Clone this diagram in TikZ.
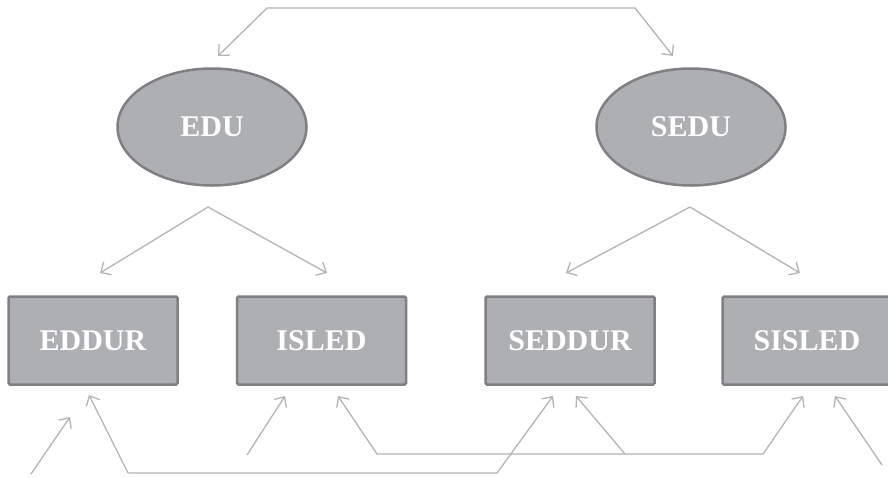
\documentclass[tikz,border=0pt]{standalone}
\usepackage{fontspec}
\setmainfont{Liberation Serif}
\usetikzlibrary{arrows.meta,shapes.geometric}
\definecolor{boxfill}{RGB}{174,175,179}
\definecolor{boxline}{RGB}{128,128,132}
\definecolor{connc}{RGB}{180,180,184}
\begin{document}
\begin{tikzpicture}[x=1pt,y=-1pt,
  lbl/.style={text=white,font=\fontsize{30}{36}\selectfont\bfseries},
  latent/.style={ellipse,draw=boxline,line width=2.5pt,fill=boxfill,minimum width=189pt,minimum height=117pt,lbl},
  observed/.style={rectangle,rounded corners=1.5pt,draw=boxline,line width=2.5pt,fill=boxfill,minimum width=169pt,minimum height=88pt,lbl},
  tipshape/.style={Straight Barb[length=8pt,width=15pt]},
  conn/.style={draw=connc,line width=1.3pt,-{Straight Barb[length=8pt,width=15pt]}},
  conntwo/.style={draw=connc,line width=1.3pt,{Straight Barb[length=8pt,width=15pt]}-{Straight Barb[length=8pt,width=15pt]}}]
\useasboundingbox (0,0) rectangle (888,477);
\fill[white] (0,0) rectangle (888,477);
% nodes
\node[latent] (edu) at (212,127) {EDU};
\node[latent] (sedu) at (691,127) {SEDU};
\node[observed] (eddur) at (93,340.5) {EDDUR};
\node[observed] (isled) at (321.5,340.5) {ISLED};
\node[observed] (seddur) at (570,340.5) {SEDDUR};
\node[observed] (sisled) at (807,340.5) {SISLED};
% connector end points
\coordinate (edutop) at (218,56);
\coordinate (sedutop) at (673,56);
\coordinate (edusplit) at (208,207);
\coordinate (sedusplit) at (690,207);
\coordinate (eddurtop) at (100,273);
\coordinate (isledtop) at (327,273);
\coordinate (seddurtop) at (566,273);
\coordinate (sisledtop) at (800,273);
\coordinate (eddurerr) at (31,474);
\coordinate (eddurerrtip) at (70,417);
\coordinate (eddurbot) at (89,395);
\coordinate (islederr) at (247,455);
\coordinate (isledbot) at (285,396);
\coordinate (isledbotb) at (338,396);
\coordinate (seddurbot) at (553,396);
\coordinate (seddurbotb) at (576,396);
\coordinate (seddurerr) at (625,454);
\coordinate (sisledbot) at (803,396);
\coordinate (sislederr) at (882,465);
\coordinate (sisledbotb) at (835,396);
% top covariance
\draw[conntwo] (edutop) -- (267,8) -- (635,8) -- (sedutop);
% loadings
\draw[conn] (edusplit) -- (eddurtop);
\draw[conn] (edusplit) -- (isledtop);
\draw[conn] (sedusplit) -- (seddurtop);
\draw[conn] (sedusplit) -- (sisledtop);
% errors
\draw[conn] (eddurerr) -- (eddurerrtip);
\draw[conn] (islederr) -- (isledbot);
\draw[conn] (seddurerr) -- (seddurbotb);
\draw[conn] (sislederr) -- (sisledbotb);
% error covariances
\draw[conntwo] (eddurbot) -- (128,473) -- (497,473) -- (seddurbot);
\draw[conntwo] (isledbotb) -- (377,454) -- (763,454) -- (sisledbot);
\end{tikzpicture}
\end{document}
